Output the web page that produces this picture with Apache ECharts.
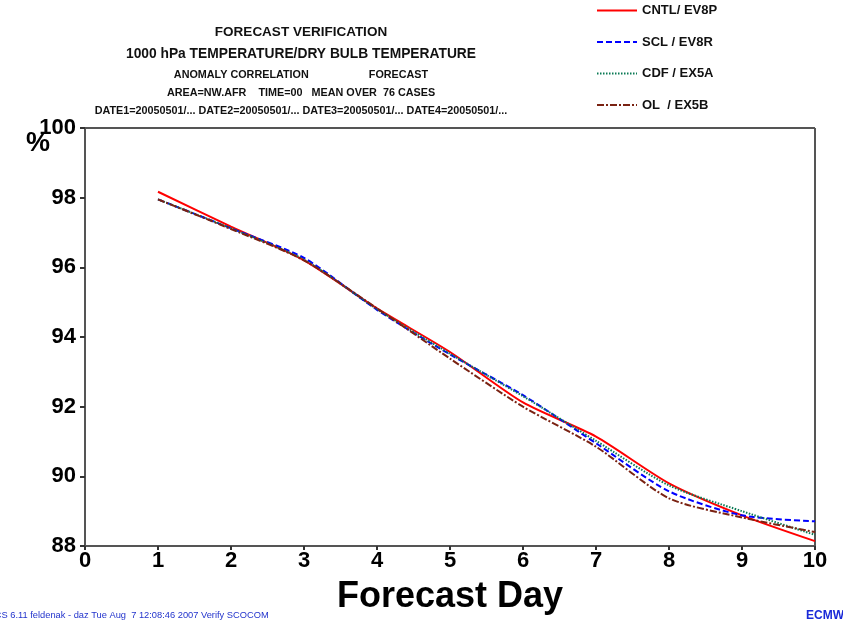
<!DOCTYPE html>
<html>
<head>
<meta charset="utf-8">
<script src="https://cdn.jsdelivr.net/npm/echarts@6/dist/echarts.min.js"></script>
<style>
  html, body { margin: 0; padding: 0; background: #fff; }
  #draw_area { width: 843px; height: 620px; }
</style>
</head>
<body>
<div id="draw_area"></div>
<script>
"use strict";

// forecast days and anomaly correlation (%) for each experiment
var days = [1, 2, 3, 4, 5, 6, 7, 8, 9, 10];
var cntl = [98.17, 97.17, 96.2, 94.82, 93.57, 92.12, 91.14, 89.8, 88.88, 88.14];
var scl  = [97.95, 97.12, 96.27, 94.78, 93.5, 92.33, 90.95, 89.57, 88.88, 88.71];
var cdf  = [97.95, 97.12, 96.22, 94.8, 93.52, 92.3, 91.02, 89.74, 89.0, 88.32];
var ol   = [97.95, 97.1, 96.2, 94.82, 93.38, 92.0, 90.85, 89.37, 88.82, 88.4];

var seriesNames = ['CNTL/ EV8P', 'SCL / EV8R', 'CDF / EX5A', 'OL  / EX5B'];
var xTicks = [0, 1, 2, 3, 4, 5, 6, 7, 8, 9, 10];

var titleLines = [
    'FORECAST VERIFICATION',
    '1000 hPa TEMPERATURE/DRY BULB TEMPERATURE',
    'ANOMALY CORRELATION                    FORECAST',
    'AREA=NW.AFR    TIME=00   MEAN OVER  76 CASES',
    'DATE1=20050501/... DATE2=20050501/... DATE3=20050501/... DATE4=20050501/...'
];

var FONT = 'Liberation Sans, Arial, sans-serif';

function pairs(vals) {
    return days.map(function (d, i) { return [d, vals[i]]; });
}

function makeSeries(name, vals, color, dash, width) {
    return {
        name: name,
        type: 'line',
        data: pairs(vals),
        smooth: 0.25,
        symbol: 'none',
        itemStyle: { color: color },
        lineStyle: { color: color, width: width, type: dash },
        emphasis: { disabled: true }
    };
}

// 标题文字
var titleGraphics = [];
var titleY = [32, 54, 75, 93, 111];
var titleSize = [13.5, 13.8, 10.8, 10.8, 10.8];
for (var i = 0; i < titleLines.length; i++) {
    titleGraphics.push({
        type: 'text',
        x: 301,
        y: titleY[i],
        style: {
            text: titleLines[i],
            font: 'bold ' + titleSize[i] + 'px ' + FONT,
            fill: '#111',
            align: 'center',
            verticalAlign: 'middle'
        }
    });
}

const option = {
    animation: false,
    backgroundColor: '#fff',
    grid: { left: 85, right: 28, top: 128, bottom: 72, containLabel: false },
    legend: {
        orient: 'vertical',
        left: 596,
        top: 4,
        padding: 0,
        itemWidth: 40,
        itemHeight: 14,
        itemGap: 18.5,
        data: seriesNames,
        itemStyle: { opacity: 0 },
        textStyle: { fontFamily: FONT, fontWeight: 'bold', fontSize: 13, color: '#111' },
        selectedMode: false
    },
    xAxis: {
        type: 'value',
        min: 0,
        max: 10,
        interval: 1,
        name: 'Forecast Day',
        nameLocation: 'middle',
        nameGap: 33,
        nameTextStyle: { fontFamily: FONT, fontWeight: 'bold', fontSize: 36, color: '#000' },
        axisLine: { show: true, lineStyle: { color: '#555', width: 2 } },
        axisTick: { show: true, length: 4, lineStyle: { color: '#333', width: 2 } },
        axisLabel: { fontFamily: FONT, fontWeight: 'bold', fontSize: 22, color: '#000', margin: 4,
                     formatter: function (v) { return xTicks.indexOf(v) >= 0 ? String(v) : ''; } },
        splitLine: { show: false }
    },
    yAxis: {
        type: 'value',
        min: 88,
        max: 100,
        interval: 2,
        axisLine: { show: true, lineStyle: { color: '#555', width: 2 } },
        axisTick: { show: true, length: 5, lineStyle: { color: '#333', width: 2 } },
        axisLabel: { fontFamily: FONT, fontWeight: 'bold', fontSize: 22, color: '#000', margin: 9 },
        splitLine: { show: false }
    },
    graphic: titleGraphics.concat([
        // 外框的上边和右边
        { type: 'line', shape: { x1: 85, y1: 128, x2: 815, y2: 128 }, style: { stroke: '#555', lineWidth: 2 } },
        { type: 'line', shape: { x1: 815, y1: 128, x2: 815, y2: 548 }, style: { stroke: '#555', lineWidth: 2 } },
        { type: 'text', x: 26, y: 130, style: { text: '%', font: 'bold 27px ' + FONT, fill: '#000' } },
        { type: 'text', x: -29, y: 615, style: { text: 'MAGICS 6.11 feldenak - daz Tue Aug  7 12:08:46 2007 Verify SCOCOM',
            font: '9.3px ' + FONT, fill: '#2233cc', verticalAlign: 'middle' } },
        { type: 'text', x: 806, y: 616, style: { text: 'ECMWF', font: 'bold 12px ' + FONT, fill: '#1a2ad8', verticalAlign: 'middle' } }
    ]),
    series: [
        makeSeries(seriesNames[0], cntl, '#ff0000', 'solid', 2),
        makeSeries(seriesNames[1], scl, '#0000ff', [6, 3], 2),
        makeSeries(seriesNames[2], cdf, '#0a7a55', [1.5, 1.5], 2),
        makeSeries(seriesNames[3], ol, '#7a2212', [7, 2, 2, 2], 2)
    ]
};

var chart_object = echarts.init(document.getElementById('draw_area'));
chart_object.setOption(option);
</script>
</body>
</html>
